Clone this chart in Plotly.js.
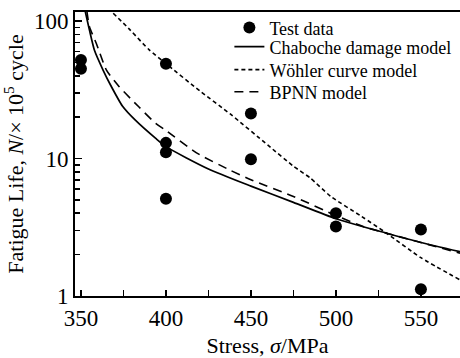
<!DOCTYPE html>
<html>
<head>
<meta charset="utf-8">
<script src="https://cdn.plot.ly/plotly-3.0.1.min.js"></script>
<style>html,body{margin:0;padding:0;background:#fff;}#chart{width:460px;height:358px;}</style>
</head>
<body>
<div id="chart"></div>
<script>
// Test data
const testStress = [350, 350, 400, 400, 400, 400, 450, 450, 500, 500, 550, 550];
const testLife   = [52, 45, 49, 13, 11.1, 5.1, 21.3, 9.9, 4.0, 3.2, 3.05, 1.12];

// Chaboche damage model (solid)
const chabStress = [352.5, 355, 358, 363, 367, 374.5, 382, 394, 400, 425, 450, 475, 500, 530, 550, 573];
const chabLife   = [118, 86, 61, 44, 35, 24, 19, 14, 12.2, 8.4, 6.3, 4.8, 3.65, 2.86, 2.45, 2.1];

// Wöhler curve model (dotted)
const wohlStress = [369, 379, 390, 400, 420, 438, 460, 475, 485, 497, 515, 530, 550, 573];
const wohlLife   = [114, 86, 62, 49, 31, 21, 12.5, 8.8, 7.2, 5.3, 3.8, 2.85, 1.9, 1.31];

// BPNN model (dashed)
const bpnnStress = [353.5, 355, 359, 365, 372.5, 384, 394, 400, 418, 438, 450, 475, 500, 516, 550, 573];
const bpnnLife   = [118, 91, 69, 44, 33.3, 23.8, 18, 16, 11, 8.2, 7.0, 5.3, 3.85, 3.2, 2.45, 2.05];

// Tick labels
const xTickVals  = [350, 400, 450, 500, 550];
const xMinorVals = [375, 425, 475, 525];
const yTickVals  = [1, 10, 100];
const yTickText  = ['1', '10', '100'];
const yMinorVals = [2, 3, 4, 5, 6, 7, 8, 9, 20, 30, 40, 50, 60, 70, 80, 90];

const FONT = 'Liberation Serif, Times New Roman, serif';

const traces = [
  {x: testStress, y: testLife, mode: 'markers', type: 'scatter', name: 'Test data', legend: 'legend',
   marker: {color: '#000', size: 12, symbol: 'circle'}, cliponaxis: false},
  {x: chabStress, y: chabLife, mode: 'lines', type: 'scatter', name: 'Chaboche damage model', legend: 'legend2',
   line: {color: '#000', width: 1.7, shape: 'spline', smoothing: 0.6}},
  {x: wohlStress, y: wohlLife, mode: 'lines', type: 'scatter', name: 'Wöhler curve model', legend: 'legend3',
   line: {color: '#000', width: 1.6, dash: '4px,3px', shape: 'spline', smoothing: 0.6}},
  {x: bpnnStress, y: bpnnLife, mode: 'lines', type: 'scatter', name: 'BPNN model', legend: 'legend4',
   line: {color: '#000', width: 1.6, dash: '9px,6px', shape: 'spline', smoothing: 0.6}}
];

function leg(yPaper) {
  return {x: 0.401, xanchor: 'left', y: yPaper, yanchor: 'middle',
          bgcolor: 'rgba(0,0,0,0)', borderwidth: 0,
          font: {family: FONT, size: 18, color: '#000'}, itemwidth: 30};
}

const layout = {
  width: 460, height: 358,
  margin: {l: 75, r: 0, t: 12, b: 62, autoexpand: false},
  paper_bgcolor: '#fff', plot_bgcolor: '#fff',
  font: {family: FONT, color: '#000', size: 22},
  showlegend: true,
  legend: leg(0.944),
  legend2: leg(0.877),
  legend3: leg(0.796),
  legend4: leg(0.718),
  xaxis: {
    range: [346.5, 573], showgrid: false, zeroline: false,
    showline: true, linecolor: '#000', linewidth: 2, mirror: true,
    ticks: 'inside', ticklen: 6, tickwidth: 1.5, tickcolor: '#000',
    tickmode: 'array', tickvals: xTickVals,
    minor: {tickmode: 'array', tickvals: xMinorVals, ticks: 'inside', ticklen: 6, tickwidth: 1.5, tickcolor: '#000', showgrid: false},
    tickfont: {family: FONT, size: 23, color: '#000'},
    title: {text: 'Stress, <i>σ</i>/MPa', font: {family: FONT, size: 22, color: '#000'}, standoff: 8}
  },
  yaxis: {
    type: 'log', range: [0, 2.066], showgrid: false, zeroline: false,
    showline: true, linecolor: '#000', linewidth: 2, mirror: false,
    ticks: 'inside', ticklen: 7, tickwidth: 1.5, tickcolor: '#000',
    tickmode: 'array', tickvals: yTickVals, ticktext: yTickText,
    minor: {tickmode: 'array', tickvals: yMinorVals, ticks: 'inside', ticklen: 5, tickwidth: 1.5, tickcolor: '#000', showgrid: false},
    tickfont: {family: FONT, size: 23, color: '#000'},
    title: {text: 'Fatigue Life, <i>N</i>/× 10<sup>5</sup> cycle', font: {family: FONT, size: 22, color: '#000'}, standoff: 6}
  }
};

Plotly.newPlot('chart', traces, layout, {displayModeBar: false, staticPlot: true});
</script>
</body>
</html>
